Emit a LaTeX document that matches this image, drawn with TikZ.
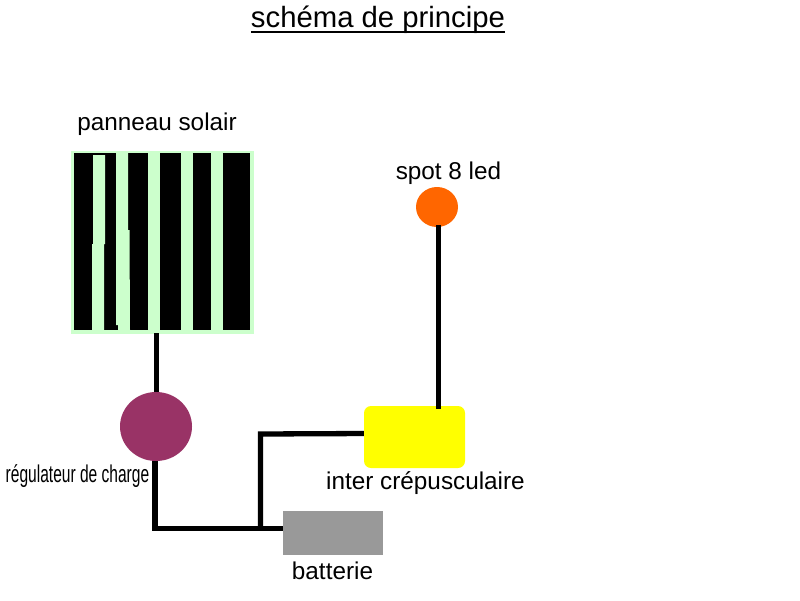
\documentclass[tikz,border=0pt]{standalone}
\usepackage{fontspec}
\usetikzlibrary{shapes.geometric}
\setmainfont{Liberation Sans}
\definecolor{panelgreen}{HTML}{CCFFCC}
\definecolor{regpurple}{HTML}{993366}
\definecolor{spotorange}{HTML}{FF6600}
\definecolor{batgrey}{HTML}{999999}
\definecolor{interyellow}{RGB}{255,255,0}
\tikzset{
  wire/.style={draw=black,line width=5.3pt,line join=miter},
  lbl/.style={anchor=base,inner sep=0pt,font=\fontsize{24.3}{28}\selectfont},
  flat/.style={draw=none,inner sep=0pt,outer sep=0pt},
}
\begin{document}
\begin{tikzpicture}[x=1pt,y=-1pt]
\useasboundingbox (0,0) rectangle (800,600);
% solar panel
\node[flat,fill=panelgreen,rectangle,minimum width=183pt,minimum height=183pt] (panel) at (162.5,242.5) {};
\node[flat,fill=black,rectangle,minimum width=176pt,minimum height=177pt] (cells) at (162,241.5) {};
\fill[panelgreen] (93,155) -- (105,155) -- (105,244) -- (104,244) -- (104,330) -- (92,330) -- (92,244) -- (93,244) -- cycle;
\fill[panelgreen] (116,153) -- (128,153) -- (128,230) -- (129.5,230) -- (130,330) -- (118,330) -- (118,325) -- (116,325) -- cycle;
\fill[panelgreen] (148,153) rectangle (160,330);
\fill[panelgreen] (181,153) rectangle (193,330);
\fill[panelgreen] (211,153) rectangle (223,330);
% wires
\coordinate (cornerA) at (155,528.3);
\coordinate (junction) at (260.5,528.3);
\coordinate (cornerB) at (260.5,434);
\coordinate (regout) at (155,458);
\coordinate (spotin) at (438.7,225);
\coordinate (interup) at (438.7,409);
\coordinate (interin) at (366,433.5);
\coordinate (batin) at (285,528.3);
\coordinate (regin) at (156.7,395);
\coordinate (panelout) at (156.7,333);
\draw[wire] (panelout) -- (regin);
\draw[wire] (regout) -- (cornerA) -- (batin);
\draw[wire] (junction) -- (cornerB) -- (interin);
% components
\node[flat,fill=regpurple,ellipse,minimum width=72pt,minimum height=69pt] (reg) at (156,426.5) {};
\node[flat,fill=spotorange,ellipse,minimum width=42pt,minimum height=40pt] (spot) at (437,207) {};
\node[flat,fill=interyellow,rectangle,rounded corners=7pt,minimum width=101pt,minimum height=62pt] (inter) at (414.5,437) {};
\node[flat,fill=batgrey,rectangle,minimum width=100pt,minimum height=44pt] (bat) at (333,533) {};
\draw[wire] (spotin) -- (interup);
% labels
\node[lbl,font=\fontsize{29.3}{32}\selectfont] (title) at (378,27) {schéma de principe};
\draw[line width=2pt] ([yshift=-4.7pt]title.base west) -- ([yshift=-4.7pt]title.base east);
\node[lbl] (lpanel) at (157,130) {panneau solair};
\node[lbl] (lspot) at (448.5,179) {spot 8 led};
\node[lbl] (linter) at (425.5,489) {inter crépusculaire};
\node[lbl] (lbat) at (332.5,579) {batterie};
\node[lbl,xscale=0.64] (lreg) at (77.5,482) {régulateur de charge};
\end{tikzpicture}
\end{document}
